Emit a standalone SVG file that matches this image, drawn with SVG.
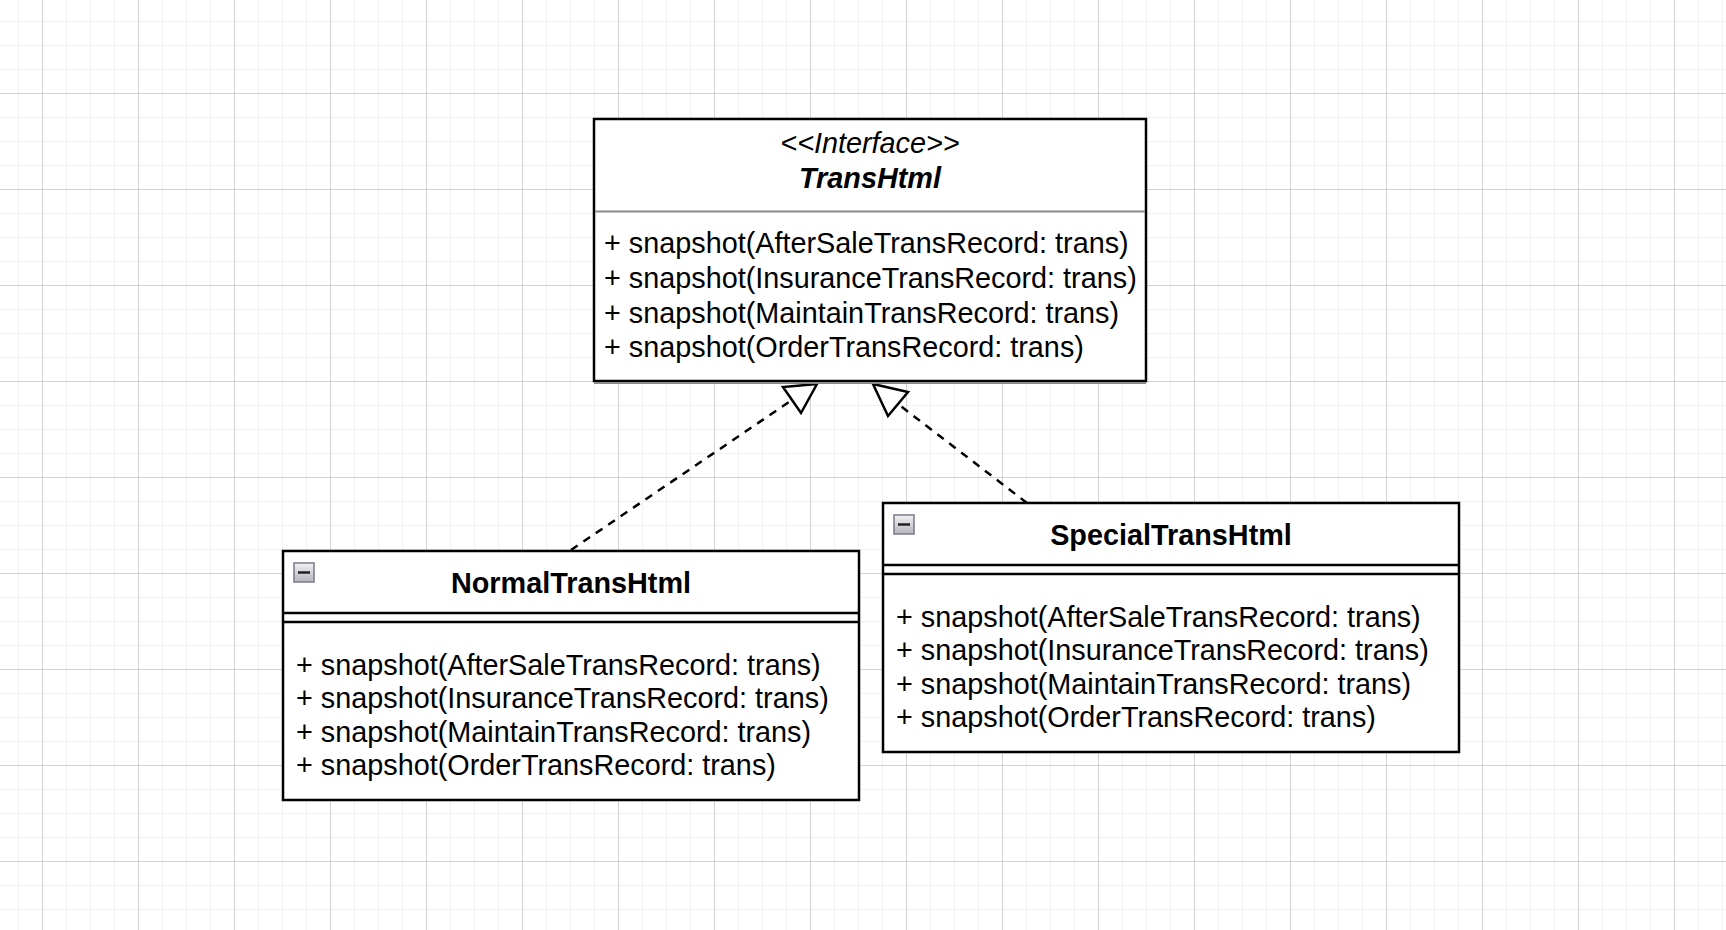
<svg xmlns="http://www.w3.org/2000/svg" width="1726" height="930" viewBox="0 0 1726 930">
  <style>
    .box { fill: #ffffff; stroke: #000000; stroke-width: 2.5; }
    .sep { stroke: #000000; stroke-width: 2.5; }
    .gsep { stroke: #8a8a8a; stroke-width: 2; }
    .txt { font-family: "Liberation Sans", Arial, sans-serif; font-size: 28.8px; fill: #000000; }
    .title { font-weight: bold; text-anchor: middle; }
    .ital { font-style: italic; text-anchor: middle; }
    .edge { fill: none; stroke: #000000; stroke-width: 2.5; stroke-dasharray: 8 7; }
    .head { fill: #ffffff; stroke: #000000; stroke-width: 2.5; stroke-linejoin: miter; }
    .icon { fill: url(#iconGrad); stroke: #7a7a8a; stroke-width: 1.5; }
    .minus { stroke: #222222; stroke-width: 2.5; }
  </style>
  <defs>
    <pattern id="minor" x="18" y="21" width="24" height="24" patternUnits="userSpaceOnUse">
      <line x1="0" y1="0" x2="0" y2="24" stroke="#f1f1f1" stroke-width="2"/>
      <line x1="0" y1="0" x2="24" y2="0" stroke="#f1f1f1" stroke-width="2"/>
    </pattern>
    <pattern id="major" x="42" y="93" width="96" height="96" patternUnits="userSpaceOnUse">
      <line x1="0.5" y1="0" x2="0.5" y2="96" stroke="#d2d2d2" stroke-width="1"/>
      <line x1="0" y1="0.5" x2="96" y2="0.5" stroke="#d2d2d2" stroke-width="1"/>
    </pattern>
    <linearGradient id="iconGrad" x1="0" y1="0" x2="0" y2="1">
      <stop offset="0" stop-color="#f2f2f4"/>
      <stop offset="1" stop-color="#b4b4bc"/>
    </linearGradient>
  </defs>

  <rect x="0" y="0" width="1726" height="930" fill="#ffffff"/>
  <rect x="0" y="0" width="1726" height="930" fill="url(#minor)"/>
  <rect x="0" y="0" width="1726" height="930" fill="url(#major)"/>

  <g id="connectors">
    <path class="edge" d="M571,550 L792,400"/>
    <polygon class="head" points="817,384 783,387 801,413"/>
    <path class="edge" d="M1027,503 L898,404"/>
    <polygon class="head" points="873,384 908,392 888,416"/>
  </g>

  <g id="TransHtml">
    <rect class="box" x="594" y="119" width="552" height="262"/>
    <line class="gsep" x1="594" y1="383" x2="1146" y2="383"/>
    <line class="gsep" x1="595" y1="211.5" x2="1145" y2="211.5"/>
    <text class="txt ital" x="870" y="153">&lt;&lt;Interface&gt;&gt;</text>
    <text class="txt title" font-style="italic" x="870" y="187.5">TransHtml</text>
    <text class="txt" x="604" y="253">+ snapshot(AfterSaleTransRecord: trans)</text>
    <text class="txt" x="604" y="288">+ snapshot(InsuranceTransRecord: trans)</text>
    <text class="txt" x="604" y="323">+ snapshot(MaintainTransRecord: trans)</text>
    <text class="txt" x="604" y="357">+ snapshot(OrderTransRecord: trans)</text>
  </g>

  <g id="NormalTransHtml">
    <rect class="box" x="283" y="551" width="576" height="249"/>
    <line class="sep" x1="283" y1="613" x2="859" y2="613"/>
    <line class="sep" x1="283" y1="622" x2="859" y2="622"/>
    <rect class="icon" x="294" y="563" width="20" height="19"/>
    <line class="minus" x1="298" y1="572.5" x2="310" y2="572.5"/>
    <text class="txt title" x="571" y="592.5">NormalTransHtml</text>
    <text class="txt" x="296" y="674.5">+ snapshot(AfterSaleTransRecord: trans)</text>
    <text class="txt" x="296" y="708">+ snapshot(InsuranceTransRecord: trans)</text>
    <text class="txt" x="296" y="741.5">+ snapshot(MaintainTransRecord: trans)</text>
    <text class="txt" x="296" y="775">+ snapshot(OrderTransRecord: trans)</text>
  </g>

  <g id="SpecialTransHtml">
    <rect class="box" x="883" y="503" width="576" height="249"/>
    <line class="sep" x1="883" y1="565" x2="1459" y2="565"/>
    <line class="sep" x1="883" y1="574" x2="1459" y2="574"/>
    <rect class="icon" x="894" y="515" width="20" height="19"/>
    <line class="minus" x1="898" y1="524.5" x2="910" y2="524.5"/>
    <text class="txt title" x="1171" y="544.5">SpecialTransHtml</text>
    <text class="txt" x="896" y="626.5">+ snapshot(AfterSaleTransRecord: trans)</text>
    <text class="txt" x="896" y="660">+ snapshot(InsuranceTransRecord: trans)</text>
    <text class="txt" x="896" y="693.5">+ snapshot(MaintainTransRecord: trans)</text>
    <text class="txt" x="896" y="727">+ snapshot(OrderTransRecord: trans)</text>
  </g>
</svg>
